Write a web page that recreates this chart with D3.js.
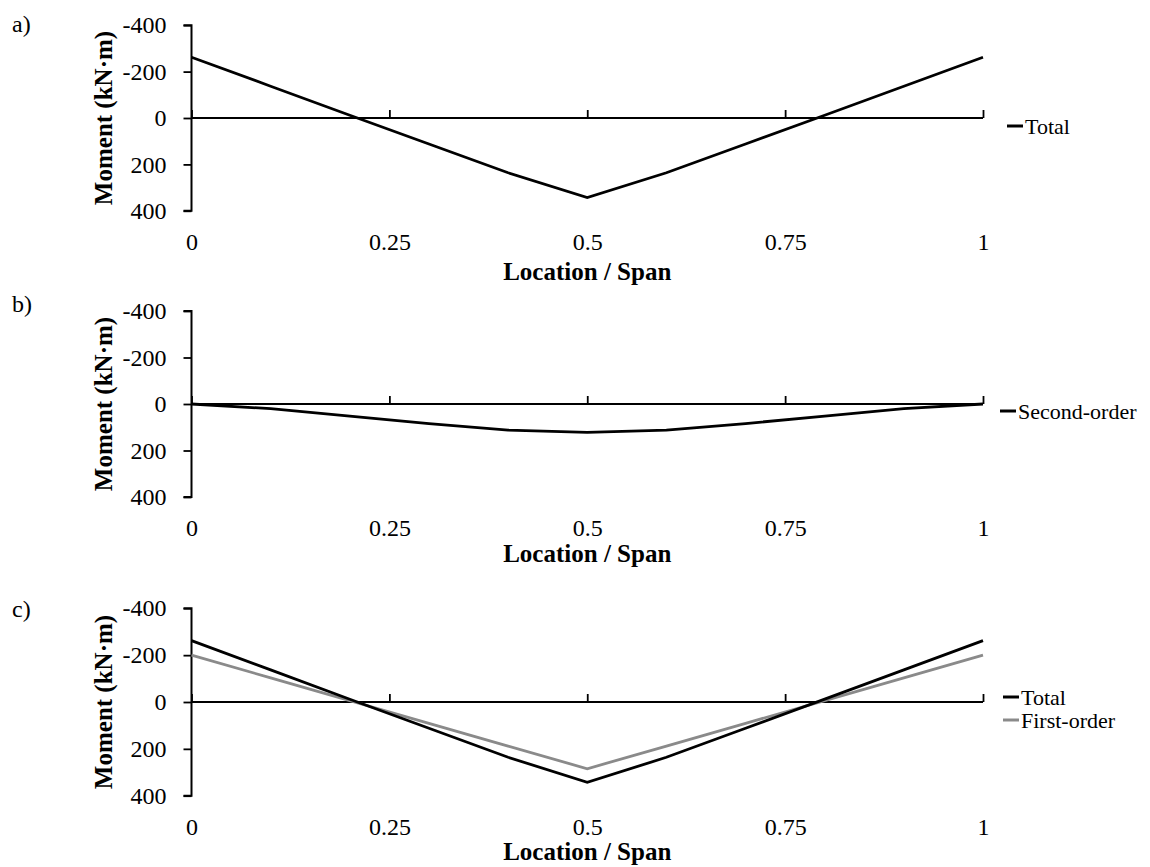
<!DOCTYPE html>
<html>
<head>
<meta charset="utf-8">
<script src="https://cdn.jsdelivr.net/npm/d3@7/dist/d3.min.js"></script>
<style>
  html, body { margin: 0; padding: 0; background: #ffffff; }
  svg { display: block; font-family: "Liberation Serif", "Times New Roman", serif; }
</style>
</head>
<body>
<svg id="chart" width="1150" height="867"></svg>
<script>
// ---- data ----
const locations = [0, 0.1, 0.2, 0.3, 0.4, 0.5, 0.6, 0.7, 0.8, 0.9, 1];
const totalMoment = [-262, -137, -12, 112, 236, 343, 236, 112, -12, -137, -262];
const secondOrderMoment = [0, 20, 52, 84, 112, 122, 112, 84, 52, 20, 0];
const firstOrderMoment = [-200, -103, -6, 91, 188, 285, 188, 91, -6, -103, -200];
const xTicks = [0, 0.25, 0.5, 0.75, 1];
const yTicks = [-400, -200, 0, 200, 400];
const panelLetters = ["a)", "b)", "c)"];
const xTitle = "Location / Span";
const yTitle = "Moment (kN·m)";

const series = {
  total: { name: "Total", values: totalMoment, color: "#000000" },
  second: { name: "Second-order", values: secondOrderMoment, color: "#000000" },
  first: { name: "First-order", values: firstOrderMoment, color: "#8a8a8a" }
};

const panels = [
  { letter: panelLetters[0], top: 25.2, bottom: 210.8, letterY: 32, titleOff: 69, series: ["total"], legendX: 1007, legendY: 126 },
  { letter: panelLetters[1], top: 311, bottom: 497, letterY: 312, titleOff: 65, series: ["second"], legendX: 1000, legendY: 411 },
  { letter: panelLetters[2], top: 608.3, bottom: 795.7, letterY: 617, titleOff: 64.5, series: ["total", "first"], legendX: 1003, legendY: 697 }
];

const svg = d3.select("#chart");
const x = d3.scaleLinear().domain([0, 1]).range([191.5, 983]);

panels.forEach(p => {
  const g = svg.append("g");
  const y = d3.scaleLinear().domain([-400, 400]).range([p.top, p.bottom]);

  // panel letter
  g.append("text").attr("x", 12).attr("y", p.letterY)
    .attr("font-size", 24).attr("fill", "#000").text(p.letter);

  // y axis
  const yAxis = g.append("g").attr("transform", `translate(${x(0)},0)`)
    .call(d3.axisLeft(y).tickValues(yTicks).tickSize(8).tickPadding(17).tickFormat(d => String(d)));
  yAxis.select(".domain").attr("stroke", "#000").attr("stroke-width", 2)
    .attr("d", `M-8,${y(-400)}H0V${y(400)}H-8`);
  yAxis.selectAll(".tick line").attr("stroke", "#000").attr("stroke-width", 1.8);
  yAxis.selectAll(".tick text").attr("font-size", 24).attr("fill", "#000")
    .attr("font-family", "Liberation Serif, Times New Roman, serif");

  // x axis line at zero with upward ticks
  const xAxis = g.append("g").attr("transform", `translate(0,${y(0)})`)
    .call(d3.axisTop(x).tickValues(xTicks).tickSize(8).tickFormat(""));
  xAxis.select(".domain").attr("stroke", "#000").attr("stroke-width", 2)
    .attr("d", `M${x(0)},0H${x(1)}`);
  xAxis.selectAll(".tick line").attr("stroke", "#000").attr("stroke-width", 1.8);

  // x tick labels at bottom
  const xLab = g.append("g").attr("transform", `translate(0,${y(400)})`)
    .call(d3.axisBottom(x).tickValues(xTicks).tickSize(0).tickPadding(22).tickFormat(d => String(d)));
  xLab.select(".domain").remove();
  xLab.selectAll(".tick text").attr("font-size", 24).attr("fill", "#000")
    .attr("font-family", "Liberation Serif, Times New Roman, serif");

  // axis titles
  g.append("text").attr("x", (x(0) + x(1)) / 2).attr("y", y(400) + p.titleOff)
    .attr("text-anchor", "middle").attr("font-size", 25).attr("font-weight", "bold")
    .attr("fill", "#000").text(xTitle);
  g.append("text")
    .attr("transform", `translate(112,${(p.top + p.bottom) / 2}) rotate(-90)`)
    .attr("text-anchor", "middle").attr("font-size", 25).attr("font-weight", "bold")
    .attr("fill", "#000").text(yTitle);

  // lines (draw grey first-order beneath black)
  const order = p.series.slice().reverse();
  const line = d3.line().x((d, i) => x(locations[i])).y(d => y(d));
  order.forEach(key => {
    const s = series[key];
    g.append("path").datum(s.values)
      .attr("fill", "none").attr("stroke", s.color).attr("stroke-width", 2.8)
      .attr("stroke-linejoin", "miter").attr("d", line);
  });

  // legend
  p.series.forEach((key, i) => {
    const s = series[key];
    const ly = p.legendY + i * 23;
    g.append("line").attr("x1", p.legendX).attr("x2", p.legendX + 16)
      .attr("y1", ly).attr("y2", ly).attr("stroke", s.color).attr("stroke-width", 3);
    g.append("text").attr("x", p.legendX + 18).attr("y", ly + 7.5)
      .attr("font-size", 22).attr("fill", "#000").text(s.name);
  });
});
</script>
</body>
</html>
